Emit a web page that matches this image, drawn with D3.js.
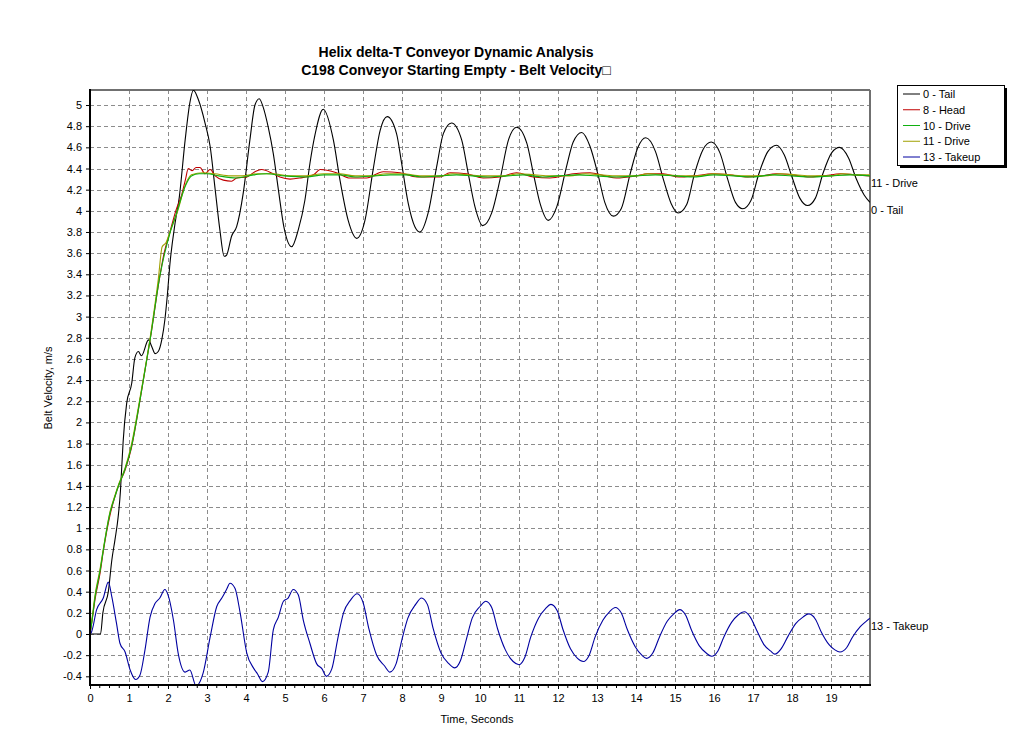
<!DOCTYPE html>
<html>
<head>
<meta charset="utf-8">
<script src="https://cdn.jsdelivr.net/npm/d3@7"></script>
<style>
  body { margin: 0; background: #ffffff; }
  text { font-family: Arial, "Liberation Sans", sans-serif; }
</style>
</head>
<body>
<div id="chart"></div>
<script>
const titleLines = ["Helix delta-T Conveyor Dynamic Analysis", "C198 Conveyor Starting Empty - Belt Velocity\u25A1"];
const seriesNames = ["0 - Tail", "8 - Head", "10 - Drive", "11 - Drive", "13 - Takeup"];
const seriesColors = ["#000000", "#c00000", "#10b010", "#a0a000", "#0000a0"];
const endLabels = ["0 - Tail", "11 - Drive", "13 - Takeup"];
const xTickValues = d3.range(0, 20, 1);
const yTickValues = d3.range(-0.4, 5.01, 0.2);

const tailT = [0, 0.27, 0.33, 0.47, 0.56, 0.64, 0.72, 0.78, 0.81, 0.85, 0.94, 1.07, 1.15, 1.24, 1.32, 1.5, 1.58, 1.67, 1.75, 1.84, 1.92, 1.98, 2.05, 2.18, 2.29, 2.44, 2.56, 2.65, 2.78, 2.95, 3.08, 3.21, 3.33, 3.44, 3.5, 3.63, 3.76, 3.93, 4.1, 4.23, 4.34, 4.44, 4.57, 4.7, 4.83, 4.97, 5.17, 5.34, 5.51, 5.64, 5.77, 5.98, 6.24, 6.41, 6.62, 6.84, 7.05, 7.26, 7.44, 7.62, 7.86, 7.99, 8.16, 8.33, 8.46, 8.67, 8.89, 9.06, 9.27, 9.53, 9.7, 9.87, 10.07, 10.3, 10.51, 10.73, 10.94, 11.2, 11.37, 11.54, 11.75, 11.97, 12.22, 12.39, 12.61, 12.82, 13.04, 13.2, 13.42, 13.62, 13.85, 14.05, 14.25, 14.5, 14.7, 14.9, 15.08, 15.3, 15.5, 15.72, 15.93, 16.15, 16.35, 16.55, 16.74, 16.95, 17.15, 17.38, 17.6, 17.8, 18.0, 18.2, 18.4, 18.6, 18.8, 19.02, 19.22, 19.45, 19.65, 19.85, 20];
const tailV = [0, 0, 0.2, 0.4, 0.7, 0.89, 1.1, 1.35, 1.55, 1.82, 2.18, 2.37, 2.61, 2.67, 2.63, 2.78, 2.72, 2.65, 2.67, 2.78, 2.97, 3.19, 3.5, 3.88, 4.13, 4.67, 5.02, 5.14, 5.05, 4.83, 4.61, 4.2, 3.82, 3.57, 3.58, 3.76, 3.85, 4.17, 4.67, 5.0, 5.06, 4.98, 4.79, 4.54, 4.2, 3.85, 3.66, 3.82, 4.1, 4.45, 4.72, 4.96, 4.67, 4.29, 3.91, 3.74, 3.91, 4.39, 4.76, 4.89, 4.73, 4.45, 4.07, 3.85, 3.8, 3.98, 4.42, 4.73, 4.83, 4.67, 4.35, 4.04, 3.86, 3.98, 4.29, 4.67, 4.79, 4.64, 4.35, 4.07, 3.91, 4.04, 4.42, 4.65, 4.74, 4.61, 4.32, 4.08, 3.95, 4.02, 4.35, 4.6, 4.69, 4.56, 4.3, 4.07, 3.98, 4.06, 4.35, 4.58, 4.65, 4.55, 4.3, 4.08, 4.02, 4.1, 4.35, 4.56, 4.62, 4.53, 4.32, 4.12, 4.05, 4.12, 4.36, 4.55, 4.6, 4.5, 4.3, 4.15, 4.08];

const headT = [0, 0.05, 0.13, 0.26, 0.34, 0.51, 0.64, 0.75, 0.9, 1.05, 1.3, 1.55, 1.79, 1.9, 2.05, 2.2, 2.35, 2.45, 2.52, 2.62, 2.72, 2.82, 2.95, 3.08, 3.21, 3.42, 3.63, 3.76, 4.02, 4.23, 4.4, 4.7, 4.87, 5.13, 5.38, 5.73, 5.9, 6.32, 6.67, 7.09, 7.52, 7.95, 8.38, 8.97, 9.23, 9.66, 10.08, 10.51, 10.94, 11.37, 11.79, 12.39, 12.82, 13.2, 13.5, 14.0, 14.3, 14.7, 15.1, 15.5, 15.95, 16.4, 16.8, 17.2, 17.6, 18.0, 18.4, 18.8, 19.25, 19.6, 20];
const headV = [0, 0.12, 0.33, 0.58, 0.78, 1.12, 1.3, 1.42, 1.55, 1.74, 2.25, 2.8, 3.38, 3.6, 3.8, 4.0, 4.15, 4.3, 4.4, 4.38, 4.41, 4.41, 4.35, 4.39, 4.33, 4.29, 4.28, 4.31, 4.32, 4.37, 4.39, 4.35, 4.32, 4.3, 4.31, 4.34, 4.39, 4.36, 4.31, 4.31, 4.37, 4.36, 4.32, 4.32, 4.36, 4.35, 4.31, 4.32, 4.36, 4.32, 4.31, 4.35, 4.36, 4.33, 4.31, 4.33, 4.35, 4.35, 4.32, 4.33, 4.35, 4.34, 4.32, 4.33, 4.35, 4.34, 4.32, 4.33, 4.35, 4.34, 4.33];

const drive10T = [0, 0.05, 0.13, 0.26, 0.34, 0.51, 0.64, 0.75, 0.9, 1.05, 1.3, 1.55, 1.79, 2.05, 2.22, 2.45, 2.6, 2.8, 3.0, 3.3, 3.76, 4.2, 4.53, 5.0, 5.55, 6.0, 6.4, 6.8, 7.3, 7.7, 8.1, 8.5, 9.0, 9.4, 9.8, 10.2, 10.7, 11.1, 11.6, 12.0, 12.5, 13.0, 13.5, 14.0, 14.5, 15.0, 15.5, 16.0, 16.5, 17.0, 17.5, 18.0, 18.5, 19.0, 19.5, 20];
const drive10V = [0, 0.12, 0.35, 0.6, 0.79, 1.14, 1.3, 1.42, 1.56, 1.75, 2.25, 2.8, 3.38, 3.79, 3.98, 4.24, 4.33, 4.35, 4.35, 4.33, 4.31, 4.34, 4.35, 4.33, 4.32, 4.34, 4.34, 4.32, 4.33, 4.34, 4.34, 4.32, 4.33, 4.34, 4.33, 4.32, 4.33, 4.34, 4.32, 4.33, 4.34, 4.33, 4.32, 4.33, 4.34, 4.33, 4.32, 4.34, 4.33, 4.32, 4.34, 4.33, 4.32, 4.33, 4.34, 4.33];

const drive11T = [0, 0.05, 0.13, 0.26, 0.34, 0.51, 0.64, 0.75, 0.9, 1.05, 1.3, 1.55, 1.75, 1.85, 1.95, 2.05, 2.25, 2.45, 2.6, 2.9, 3.2, 3.6, 3.9, 4.3, 4.7, 5.1, 5.5, 6.0, 6.4, 6.8, 7.2, 7.6, 8.0, 8.5, 9.0, 9.3, 9.7, 10.1, 10.6, 11.0, 11.4, 11.8, 12.3, 12.7, 13.1, 13.5, 14.0, 14.3, 14.8, 15.2, 15.6, 16.0, 16.4, 16.8, 17.3, 17.7, 18.1, 18.5, 19.0, 19.3, 19.7, 20];
const drive11V = [0, 0.14, 0.37, 0.62, 0.8, 1.15, 1.31, 1.43, 1.57, 1.77, 2.27, 2.82, 3.35, 3.66, 3.7, 3.8, 4.0, 4.25, 4.34, 4.36, 4.35, 4.33, 4.33, 4.35, 4.35, 4.33, 4.33, 4.35, 4.35, 4.33, 4.33, 4.35, 4.35, 4.33, 4.33, 4.35, 4.34, 4.33, 4.33, 4.35, 4.34, 4.33, 4.33, 4.35, 4.34, 4.33, 4.33, 4.35, 4.34, 4.33, 4.33, 4.35, 4.34, 4.33, 4.33, 4.35, 4.34, 4.33, 4.33, 4.35, 4.34, 4.34];

const takeupT = [0, 0.04, 0.17, 0.34, 0.47, 0.56, 0.68, 0.77, 0.9, 1.03, 1.17, 1.28, 1.41, 1.54, 1.67, 1.79, 1.92, 2.0, 2.14, 2.26, 2.44, 2.56, 2.72, 2.9, 3.08, 3.25, 3.38, 3.5, 3.59, 3.72, 3.85, 4.02, 4.19, 4.3, 4.42, 4.57, 4.7, 4.83, 4.96, 5.08, 5.21, 5.34, 5.47, 5.64, 5.81, 5.95, 6.06, 6.2, 6.35, 6.5, 6.68, 6.85, 7.0, 7.15, 7.35, 7.55, 7.69, 7.85, 8.0, 8.15, 8.35, 8.5, 8.65, 8.8, 9.0, 9.2, 9.35, 9.5, 9.65, 9.8, 10.0, 10.15, 10.3, 10.45, 10.65, 10.85, 11.0, 11.15, 11.3, 11.5, 11.68, 11.82, 11.98, 12.13, 12.32, 12.5, 12.65, 12.8, 12.95, 13.15, 13.32, 13.47, 13.62, 13.78, 13.98, 14.15, 14.27, 14.43, 14.6, 14.8, 14.97, 15.12, 15.27, 15.43, 15.62, 15.8, 15.94, 16.1, 16.25, 16.45, 16.62, 16.78, 16.93, 17.1, 17.28, 17.45, 17.56, 17.72, 17.9, 18.1, 18.28, 18.43, 18.6, 18.75, 18.95, 19.1, 19.23, 19.4, 19.55, 19.75, 19.9, 20];
const takeupV = [0, 0.02, 0.23, 0.34, 0.49, 0.35, 0.1, -0.09, -0.17, -0.34, -0.43, -0.39, -0.15, 0.16, 0.29, 0.34, 0.42, 0.37, 0.13, -0.18, -0.36, -0.34, -0.49, -0.37, -0.03, 0.26, 0.34, 0.42, 0.48, 0.43, 0.2, -0.18, -0.32, -0.38, -0.45, -0.36, 0.04, 0.16, 0.31, 0.34, 0.42, 0.37, 0.13, -0.09, -0.28, -0.33, -0.4, -0.33, -0.05, 0.2, 0.32, 0.38, 0.3, 0.05, -0.2, -0.3, -0.36, -0.28, -0.05, 0.15, 0.28, 0.34, 0.28, 0.05, -0.18, -0.28, -0.32, -0.25, -0.05, 0.15, 0.26, 0.31, 0.25, 0.05, -0.15, -0.26, -0.29, -0.22, -0.03, 0.15, 0.24, 0.28, 0.22, 0.04, -0.14, -0.23, -0.26, -0.2, -0.03, 0.13, 0.21, 0.25, 0.2, 0.04, -0.12, -0.2, -0.23, -0.18, -0.03, 0.12, 0.19, 0.23, 0.18, 0.03, -0.11, -0.18, -0.21, -0.16, -0.03, 0.11, 0.18, 0.21, 0.16, 0.03, -0.1, -0.16, -0.19, -0.14, -0.02, 0.1, 0.16, 0.19, 0.14, 0.02, -0.1, -0.15, -0.17, -0.13, -0.03, 0.07, 0.12, 0.15];

function zipSeries(ts, vs) {
  var pts = [];
  for (var i = 0; i < ts.length; i++) {
    pts.push({ t: ts[i], v: vs[i] });
  }
  return pts;
}

const series = [
  zipSeries(tailT, tailV),
  zipSeries(headT, headV),
  zipSeries(drive10T, drive10V),
  zipSeries(drive11T, drive11V),
  zipSeries(takeupT, takeupV),
];

const dim = { width: 1029, height: 750, left: 90, top: 90, right: 870, bottom: 685 };

var svg = d3
  .select("#chart")
  .append("svg")
  .attr("width", dim.width)
  .attr("height", dim.height);

svg.append("rect").attr("width", dim.width).attr("height", dim.height).attr("fill", "#ffffff");

var x = d3.scaleLinear().domain([0, 20]).range([dim.left, dim.right]);
var y = d3.scaleLinear().domain([-0.482, 5.142]).range([dim.bottom, dim.top]);

// grid
var grid = svg.append("g").attr("stroke", "#8c8c8c").attr("stroke-dasharray", "4,3").attr("stroke-width", 1);
grid
  .selectAll("line.gx")
  .data(xTickValues.filter(function (d) { return d > 0; }))
  .enter()
  .append("line")
  .attr("x1", function (d) { return Math.round(x(d)) + 0.5; })
  .attr("x2", function (d) { return Math.round(x(d)) + 0.5; })
  .attr("y1", dim.top)
  .attr("y2", dim.bottom);
grid
  .selectAll("line.gy")
  .data(yTickValues)
  .enter()
  .append("line")
  .attr("x1", dim.left)
  .attr("x2", dim.right)
  .attr("y1", function (d) { return Math.round(y(d)) + 0.5; })
  .attr("y2", function (d) { return Math.round(y(d)) + 0.5; });

// frame
svg.append("line").attr("x1", dim.left).attr("x2", dim.right).attr("y1", dim.top).attr("y2", dim.top)
  .attr("stroke", "#707070").attr("stroke-width", 2);
svg.append("line").attr("x1", dim.right).attr("x2", dim.right).attr("y1", dim.top).attr("y2", dim.bottom)
  .attr("stroke", "#707070").attr("stroke-width", 2);

var line = d3
  .line()
  .x(function (d) { return x(d.t); })
  .y(function (d) { return y(d.v); })
  .curve(d3.curveMonotoneX);

svg.append("clipPath").attr("id", "plot-clip")
  .append("rect").attr("x", dim.left).attr("y", dim.top)
  .attr("width", dim.right - dim.left).attr("height", dim.bottom - dim.top);

var plot = svg.append("g").attr("clip-path", "url(#plot-clip)");
[0, 1, 3, 2, 4].forEach(function (i) {
  plot
    .append("path")
    .datum(series[i])
    .attr("fill", "none")
    .attr("stroke", seriesColors[i])
    .attr("stroke-width", 1.1)
    .attr("d", line);
});

// axes
var xAxis = d3.axisBottom(x).tickValues(xTickValues).tickSize(4).tickFormat(d3.format("d"));
var gx = svg.append("g").attr("transform", "translate(0," + dim.bottom + ")").call(xAxis);
gx.select(".domain").remove();
gx.selectAll("text").attr("font-size", 11).attr("fill", "#000").attr("dy", "0.9em").attr("y", 7);

var minor = d3.range(0, 20, 0.25).filter(function (d) { return d % 1 !== 0; });
svg.append("g").selectAll("line").data(minor).enter().append("line")
  .attr("x1", function (d) { return x(d); }).attr("x2", function (d) { return x(d); })
  .attr("y1", dim.bottom).attr("y2", dim.bottom + 3)
  .attr("stroke", "#000");

var yAxis = d3.axisLeft(y).tickValues(yTickValues).tickSize(4).tickFormat(function (d) {
  return String(Math.round(d * 10) / 10);
});
var gy = svg.append("g").attr("transform", "translate(" + dim.left + ",0)").call(yAxis);
gy.select(".domain").remove();
gy.selectAll("text").attr("font-size", 11).attr("fill", "#000").attr("x", -8);

svg.append("line").attr("x1", dim.left).attr("x2", dim.left).attr("y1", dim.top - 1).attr("y2", dim.bottom + 1)
  .attr("stroke", "#000").attr("stroke-width", 2);
svg.append("line").attr("x1", dim.left - 1).attr("x2", dim.right + 1).attr("y1", dim.bottom).attr("y2", dim.bottom)
  .attr("stroke", "#000").attr("stroke-width", 2);

// titles
svg.selectAll("text.title")
  .data(titleLines)
  .enter()
  .append("text")
  .attr("x", 456)
  .attr("y", function (d, i) { return 57 + i * 18; })
  .attr("text-anchor", "middle")
  .attr("font-weight", "bold")
  .attr("font-size", 14)
  .text(function (d) { return d; });

svg.append("text")
  .attr("text-anchor", "middle")
  .attr("x", 477)
  .attr("y", 723)
  .attr("font-size", 11)
  .text("Time, Seconds");

svg.append("text")
  .attr("text-anchor", "middle")
  .attr("transform", "translate(52,388) rotate(-90)")
  .attr("font-size", 11)
  .text("Belt Velocity, m/s");

// end labels
var endIdx = [0, 3, 4];
endIdx.forEach(function (si, k) {
  var pts = series[si];
  svg.append("text")
    .attr("x", dim.right + 1)
    .attr("y", y(pts[pts.length - 1].v) + 12)
    .attr("font-size", 11)
    .text(endLabels[k]);
});

// legend
var legend = svg.append("g").attr("transform", "translate(897,85)");
legend.append("rect").attr("x", 3).attr("y", 3).attr("width", 107).attr("height", 80).attr("fill", "#000");
legend.append("rect").attr("x", 0.5).attr("y", 0.5).attr("width", 107).attr("height", 80)
  .attr("fill", "#fff").attr("stroke", "#000");
seriesNames.forEach(function (name, i) {
  var row = legend.append("g").attr("transform", "translate(0," + (9 + i * 15.75) + ")");
  row.append("line").attr("x1", 6).attr("x2", 23).attr("y1", 0).attr("y2", 0)
    .attr("stroke", seriesColors[i]);
  row.append("text").attr("x", 26).attr("y", 4).attr("font-size", 11).text(name);
});
</script>
</body>
</html>
